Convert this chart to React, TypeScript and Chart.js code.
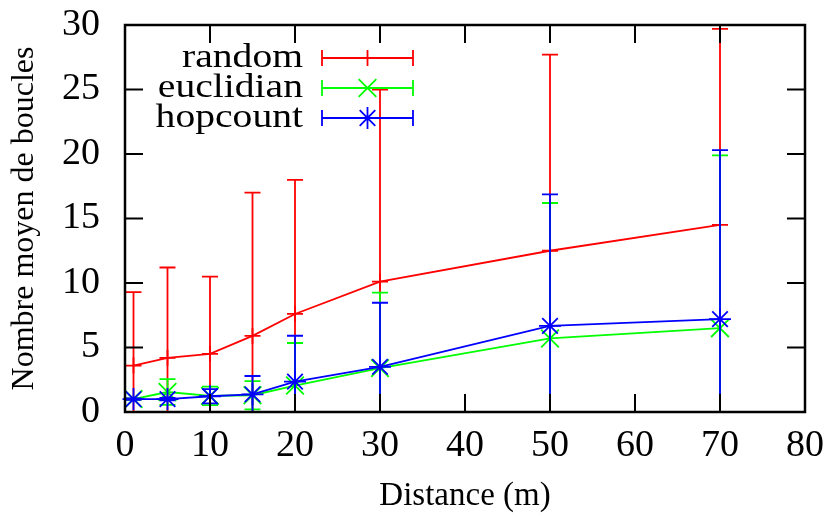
import React, { useEffect, useRef } from "react";
import { Chart, registerables } from "chart.js";

Chart.register(...registerables);

// ---- Data ----
const distances = [1, 5, 10, 15, 20, 30, 50, 70];

const randomMean = [3.6, 4.2, 4.5, 5.9, 7.6, 10.1, 12.5, 14.5];
const randomErr = [5.7, 7.0, 6.0, 11.1, 10.4, 14.9, 15.2, 15.2];

const euclidianMean = [1.0, 1.55, 1.25, 1.3, 2.05, 3.4, 5.7, 6.5];
const euclidianErr = [0.05, 1.0, 0.72, 1.1, 3.3, 5.85, 10.5, 13.4];

const hopcountMean = [1.0, 1.0, 1.22, 1.37, 2.35, 3.5, 6.67, 7.2];
const hopcountErr = [0.05, 0.1, 0.55, 1.42, 3.56, 4.97, 10.2, 13.1];

const xTicks = [0, 10, 20, 30, 40, 50, 60, 70, 80];
const yTicks = [0, 5, 10, 15, 20, 25, 30];

const seriesNames = ["random", "euclidian", "hopcount"];
const seriesColors = ["#ff0000", "#00ff00", "#0000ff"];
const seriesPointStyles = ["cross", "crossRot", "star"];
const seriesPointRadius = [8, 12.5, 11];

const xTitle = "Distance (m)";
const yTitle = "Nombre moyen de boucles";

const FONT = "'Liberation Serif', 'Times New Roman', serif";

function drawMarker(ctx: CanvasRenderingContext2D, style: string, x: number, y: number, r: number) {
  const q = Math.PI / 4;
  ctx.beginPath();
  const plus = () => {
    ctx.moveTo(x - r, y);
    ctx.lineTo(x + r, y);
    ctx.moveTo(x, y - r);
    ctx.lineTo(x, y + r);
  };
  const rot = () => {
    const o = Math.cos(q) * r;
    ctx.moveTo(x - o, y - o);
    ctx.lineTo(x + o, y + o);
    ctx.moveTo(x + o, y - o);
    ctx.lineTo(x - o, y + o);
  };
  if (style === "cross") plus();
  else if (style === "crossRot") rot();
  else {
    plus();
    rot();
  }
  ctx.stroke();
}

const errorBarPlugin = {
  id: "errorBars",
  beforeDatasetDraw(chart: any, args: any) {
    const i = args.index;
    const ds = chart.data.datasets[i];
    const meta = chart.getDatasetMeta(i);
    const ys = chart.scales.y;
    const area = chart.chartArea;
    const ctx = chart.ctx;
    const cap = 8;
    ctx.save();
    ctx.beginPath();
    ctx.rect(area.left - cap - 2, area.top - 1, area.right - area.left + 2 * cap + 4, area.bottom - area.top + 2);
    ctx.clip();
    ctx.strokeStyle = ds.borderColor;
    ctx.lineWidth = 1.8;
    ds.errors.forEach((e: number, j: number) => {
      const pt = meta.data[j];
      const m = ds.data[j].y;
      const hi = ys.getPixelForValue(m + e);
      const lo = ys.getPixelForValue(m - e);
      const x = pt.x;
      ctx.beginPath();
      ctx.moveTo(x, Math.max(hi, area.top));
      ctx.lineTo(x, Math.min(lo, area.bottom));
      if (hi >= area.top - 0.5) {
        ctx.moveTo(x - cap, hi);
        ctx.lineTo(x + cap, hi);
      }
      if (lo <= area.bottom + 0.5) {
        ctx.moveTo(x - cap, lo);
        ctx.lineTo(x + cap, lo);
      }
      ctx.stroke();
    });
    ctx.restore();
  },
};

const framePlugin = {
  id: "frame",
  afterDatasetsDraw(chart: any) {
    const { ctx, chartArea: a, scales } = chart;
    const tl = 18;
    ctx.save();
    ctx.strokeStyle = "#000";
    ctx.lineWidth = 2;
    ctx.beginPath();
    xTicks.forEach((v) => {
      const x = scales.x.getPixelForValue(v);
      ctx.moveTo(x, a.bottom);
      ctx.lineTo(x, a.bottom - tl);
      ctx.moveTo(x, a.top);
      ctx.lineTo(x, a.top + tl);
    });
    yTicks.forEach((v) => {
      const y = scales.y.getPixelForValue(v);
      ctx.moveTo(a.left, y);
      ctx.lineTo(a.left + tl, y);
      ctx.moveTo(a.right, y);
      ctx.lineTo(a.right - tl, y);
    });
    ctx.stroke();
    ctx.lineWidth = 2.5;
    ctx.strokeRect(a.left, a.top, a.right - a.left, a.bottom - a.top);
    ctx.restore();
  },
};

const legendPlugin = {
  id: "gnuLegend",
  afterDraw(chart: any) {
    const { ctx, chartArea: a } = chart;
    const textRight = a.left + 178;
    const lineStart = a.left + 197;
    const lineEnd = a.left + 288;
    const mid = (lineStart + lineEnd) / 2;
    const cap = 8;
    ctx.save();
    seriesNames.forEach((name, i) => {
      const y = a.top + 33 + i * 30;
      ctx.save();
      ctx.translate(textRight, y);
      ctx.scale(1.2, 1);
      ctx.font = `33px ${FONT}`;
      ctx.fillStyle = "#000";
      ctx.textAlign = "right";
      ctx.textBaseline = "middle";
      ctx.fillText(name, 0, 0);
      ctx.restore();
      ctx.strokeStyle = seriesColors[i];
      ctx.lineWidth = 1.8;
      ctx.beginPath();
      ctx.moveTo(lineStart, y);
      ctx.lineTo(lineEnd, y);
      ctx.moveTo(lineStart, y - cap);
      ctx.lineTo(lineStart, y + cap);
      ctx.moveTo(lineEnd, y - cap);
      ctx.lineTo(lineEnd, y + cap);
      ctx.stroke();
      drawMarker(ctx, seriesPointStyles[i], mid, y, seriesPointRadius[i]);
    });
    ctx.restore();
  },
};

export default function App() {
  const canvasRef = useRef<HTMLCanvasElement | null>(null);

  useEffect(() => {
    if (!canvasRef.current) return;
    const means = [randomMean, euclidianMean, hopcountMean];
    const errs = [randomErr, euclidianErr, hopcountErr];
    const datasets: any[] = seriesNames.map((name, i) => ({
      label: name,
      data: distances.map((x, j) => ({ x, y: means[i][j] })),
      errors: errs[i],
      borderColor: seriesColors[i],
      backgroundColor: seriesColors[i],
      borderWidth: 1.8,
      pointStyle: seriesPointStyles[i],
      pointRadius: seriesPointRadius[i],
      pointBorderColor: seriesColors[i],
      pointBorderWidth: 1.8,
      pointHoverRadius: seriesPointRadius[i],
      fill: false,
      tension: 0,
      order: 3 - i,
      clip: false,
    }));

    const chart = new Chart(canvasRef.current, {
      type: "line",
      data: { datasets },
      options: {
        responsive: false,
        animation: false,
        events: [],
        layout: { padding: { top: 25, right: 27, left: 0, bottom: 0 } },
        plugins: { legend: { display: false }, tooltip: { enabled: false } },
        scales: {
          x: {
            type: "linear",
            min: 0,
            max: 80,
            afterBuildTicks: (s: any) => {
              s.ticks = xTicks.map((v) => ({ value: v }));
            },
            afterFit: (s: any) => {
              s.height = 104;
              s.paddingLeft = 0;
              s.paddingRight = 0;
            },
            grid: { display: false, drawTicks: false },
            border: { display: false },
            ticks: {
              autoSkip: false,
              maxRotation: 0,
              padding: 11,
              color: "#000",
              font: { family: FONT, size: 38 },
            },
            title: {
              display: true,
              text: xTitle,
              color: "#000",
              font: { family: FONT, size: 33 },
              padding: { top: 0, bottom: 0 },
            },
          },
          y: {
            type: "linear",
            min: 0,
            max: 30,
            afterBuildTicks: (s: any) => {
              s.ticks = yTicks.map((v) => ({ value: v }));
            },
            afterFit: (s: any) => {
              s.width = 125;
              s.paddingTop = 0;
              s.paddingBottom = 0;
            },
            grid: { display: false, drawTicks: false },
            border: { display: false },
            ticks: {
              autoSkip: false,
              padding: 25,
              color: "#000",
              font: { family: FONT, size: 38 },
            },
            title: {
              display: true,
              text: yTitle,
              color: "#000",
              font: { family: FONT, size: 32 },
              padding: { top: 5, bottom: 0 },
            },
          },
        },
      },
      plugins: [errorBarPlugin, framePlugin, legendPlugin],
    } as any);
    return () => chart.destroy();
  }, []);

  return (
    <div style={{ position: "absolute", left: 0, top: 0, width: 832, height: 516, background: "#fff" }}>
      <canvas ref={canvasRef} width={832} height={516} style={{ display: "block" }} />
    </div>
  );
}
